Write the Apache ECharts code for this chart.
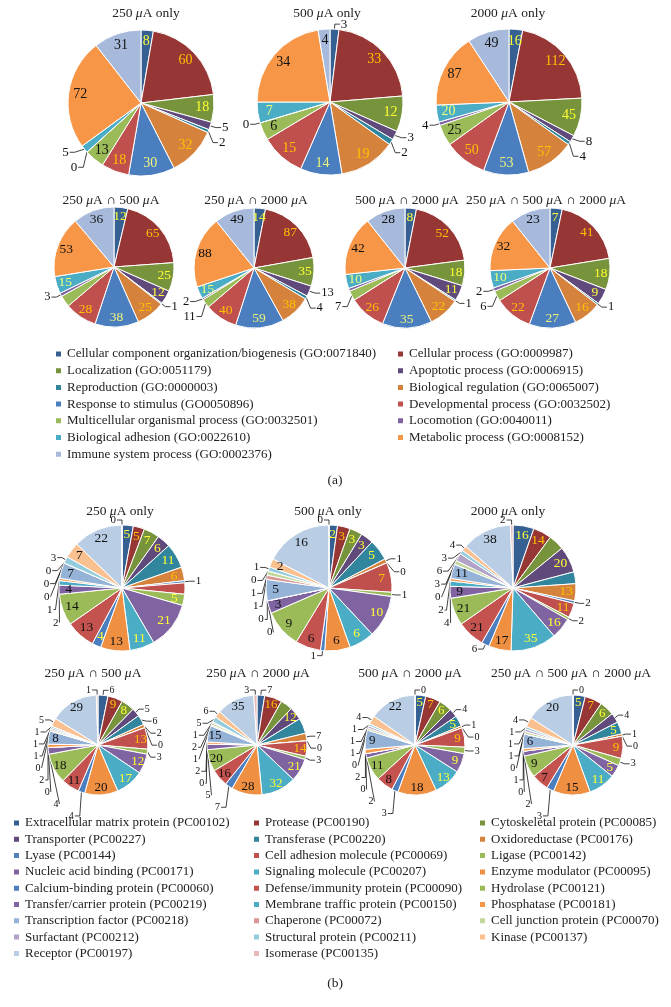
<!DOCTYPE html>
<html><head><meta charset="utf-8">
<script src="https://cdn.jsdelivr.net/npm/echarts@6/dist/echarts.min.js"></script>
<style>html,body{margin:0;padding:0;background:#fff}#c{width:671px;height:1007px}</style>
</head><body><div id="c"></div>
<script>
const FONT = '"Liberation Serif","Times New Roman",serif';

// ---------- Panel (a): GO biological process ----------
const categoriesA = [
  'Cellular component organization/biogenesis (GO:0071840)',
  'Cellular process (GO:0009987)',
  'Localization (GO:0051179)',
  'Apoptotic process (GO:0006915)',
  'Reproduction (GO:0000003)',
  'Biological regulation (GO:0065007)',
  'Response to stimulus (GO0050896)',
  'Developmental process (GO:0032502)',
  'Multicellular organismal process (GO:0032501)',
  'Locomotion (GO:0040011)',
  'Biological adhesion (GO:0022610)',
  'Metabolic process (GO:0008152)',
  'Immune system process (GO:0002376)'
];
const titlesA = ['250 μA only', '500 μA only', '2000 μA only',
  '250 μA ∩ 500 μA', '250 μA ∩ 2000 μA', '500 μA ∩ 2000 μA', '250 μA ∩ 500 μA ∩ 2000 μA'];
const a250only   = [8, 60, 18, 5, 2, 32, 30, 18, 13, 0, 5, 72, 31];
const a500only   = [3, 33, 12, 3, 2, 19, 14, 15, 6, 0, 7, 34, 4];
const a2000only  = [16, 112, 45, 8, 4, 57, 53, 50, 25, 4, 20, 87, 49];
const a250_500   = [12, 65, 25, 12, 1, 25, 38, 28, 10, 3, 15, 53, 36];
const a250_2000  = [14, 87, 35, 13, 4, 38, 59, 40, 11, 2, 15, 88, 49];
const a500_2000  = [8, 52, 18, 11, 1, 22, 35, 26, 7, 2, 10, 42, 28];
const aAll       = [7, 41, 18, 9, 1, 16, 27, 22, 6, 2, 10, 32, 23];

// ---------- Panel (b): PANTHER protein class ----------
const categoriesB = [
  'Extracellular matrix protein (PC00102)', 'Protease (PC00190)', 'Cytoskeletal protein (PC00085)',
  'Transporter (PC00227)', 'Transferase (PC00220)', 'Oxidoreductase (PC00176)',
  'Lyase (PC00144)', 'Cell adhesion molecule (PC00069)', 'Ligase (PC00142)',
  'Nucleic acid binding (PC00171)', 'Signaling molecule (PC00207)', 'Enzyme modulator (PC00095)',
  'Calcium-binding protein (PC00060)', 'Defense/immunity protein (PC00090)', 'Hydrolase (PC00121)',
  'Transfer/carrier protein (PC00219)', 'Membrane traffic protein (PC00150)', 'Phosphatase (PC00181)',
  'Transcription factor (PC00218)', 'Chaperone (PC00072)', 'Cell junction protein (PC00070)',
  'Surfactant (PC00212)', 'Structural protein (PC00211)', 'Kinase (PC00137)',
  'Receptor (PC00197)', 'Isomerase (PC00135)'
];
const titlesB = titlesA;
const b250only  = [5, 5, 7, 6, 11, 6, 1, 5, 5, 21, 11, 13, 4, 13, 14, 4, 2, 1, 7, 0, 0, 0, 3, 7, 22, 0];
const b500only  = [2, 3, 3, 3, 5, 1, 0, 7, 1, 10, 6, 6, 1, 6, 9, 3, 0, 0, 5, 1, 1, 0, 1, 2, 16, 0];
const b2000only = [16, 14, 12, 20, 9, 13, 2, 11, 2, 16, 35, 17, 6, 21, 21, 9, 4, 2, 11, 0, 3, 6, 3, 4, 38, 2];
const b250_500  = [6, 9, 8, 5, 6, 2, 0, 13, 3, 12, 17, 20, 4, 11, 18, 4, 0, 2, 8, 0, 1, 1, 1, 5, 29, 1];
const b250_2000 = [7, 16, 11, 12, 14, 7, 0, 14, 3, 21, 32, 28, 7, 16, 20, 5, 0, 2, 15, 1, 2, 1, 5, 6, 35, 3];
const b500_2000 = [5, 7, 6, 4, 5, 1, 0, 9, 3, 9, 13, 18, 3, 8, 11, 2, 0, 2, 9, 0, 1, 1, 1, 4, 22, 0];
const bAll      = [5, 7, 6, 4, 5, 1, 0, 9, 3, 5, 11, 15, 3, 7, 9, 2, 0, 1, 6, 0, 1, 1, 1, 4, 20, 0];

// ---------- styles ----------
const colorsA = ['#376092', '#963735', '#77933C', '#604A7B', '#31859C', '#D4823C', '#4A7EBF',
  '#C0504D', '#9BBB59', '#8064A2', '#4BACC6', '#F79646', '#A7BADB'];
const labelColorsA = ['#FFFF33', '#FFC000', '#FFFF33', '#FFFF33', '#FFFF33', '#FFC000', '#EEF57A',
  '#FFC000', '#111', '#FFFF33', '#EEFF77', '#111', '#111'];
const colorsB = ['#376092', '#963735', '#77933C', '#604A7B', '#31859C', '#D4823C',
  '#4F81BD', '#C0504D', '#9BBB59', '#8064A2', '#4BACC6', '#EE8F42',
  '#4A7EBF', '#C4524F', '#9BBB59', '#8064A2', '#4BACC6', '#F79646',
  '#95B3D7', '#D99694', '#C3D69B', '#B3A2C7', '#93CDDD', '#FAC090', '#B9CDE5', '#E6B9B8'];
const labelColorsB = ['#FFFF33', '#FFC000', '#FFFF33', '#FFFF33', '#FFFF33', '#FFC000',
  '#FFFF33', '#FFC000', '#FFFF33', '#FFFF33', '#FFFF33', '#111',
  '#FFFF33', '#111', '#111', '#111', '#111', '#111',
  '#111', '#111', '#111', '#111', '#111', '#111', '#111', '#111'];

function makePie(values, names, colors, lblColors, cx, cy, r, T, fsIn, fsOut) {
  const total = values.reduce((a, b) => a + b, 0);
  const isOut = v => v / total * 360 < T;
  const main = {
    type: 'pie', center: [cx, cy], radius: [0, r], startAngle: 90, clockwise: true,
    avoidLabelOverlap: true, animation: false, silent: true, minShowLabelAngle: 0,
    itemStyle: {borderColor: '#fff', borderWidth: 1},
    label: {show: true, position: 'outside', color: '#111', fontFamily: FONT, fontSize: fsOut,
      lineHeight: fsOut, padding: 0, formatter: '{c}', distanceToLabelLine: 1},
    labelLine: {show: true, length: 5, length2: 5, lineStyle: {color: '#111', width: 0.8}},
    data: values.map((v, i) => ({name: names[i], value: v, itemStyle: {color: colors[i]},
      label: {show: isOut(v)}, labelLine: {show: isOut(v)}}))
  };
  const ring = {
    type: 'pie', center: [cx, cy], radius: [r * 0.6, r], startAngle: 90, clockwise: true,
    silent: true, animation: false, legendHoverLink: false,
    itemStyle: {color: 'rgba(0,0,0,0)', borderWidth: 0},
    label: {show: true, position: 'inside', fontFamily: FONT, fontSize: fsIn, formatter: '{c}'},
    labelLine: {show: false},
    data: values.map((v, i) => ({name: names[i], value: v,
      label: {show: !isOut(v), color: lblColors[i]}}))
  };
  return [main, ring];
}

const series = [];
// panel a
[[a250only, 141, 103], [a500only, 330, 102], [a2000only, 509, 102]].forEach(p =>
  series.push(...makePie(p[0], categoriesA, colorsA, labelColorsA, p[1], p[2], 73, 9, 14, 13)));
[[a250_500, 114, 267], [a250_2000, 254, 268], [a500_2000, 405, 268], [aAll, 550, 268]].forEach(p =>
  series.push(...makePie(p[0], categoriesA, colorsA, labelColorsA, p[1], p[2], 60, 10.5, 13.5, 12.5)));
// panel b
[[b250only, 122, 588], [b500only, 329, 588], [b2000only, 513, 588]].forEach(p =>
  series.push(...makePie(p[0], categoriesB, colorsB, labelColorsB, p[1], p[2], 63, 7.5, 13.5, 11)));
[[b250_500, 98, 745], [b250_2000, 257, 745], [b500_2000, 415, 745], [bAll, 573, 745]].forEach(p =>
  series.push(...makePie(p[0], categoriesB, colorsB, labelColorsB, p[1], p[2], 50, 12, 13, 10)));

function title(x, y, str) {
  return {type: 'text', x: x, y: y, silent: true, style: {
    text: str.replace(/μ/g, '{i|μ}'), fontFamily: FONT, fontSize: 13.5, fill: '#222',
    align: 'center', verticalAlign: 'middle', textAlign: 'center', textVerticalAlign: 'middle',
    rich: {i: {fontStyle: 'italic', fontFamily: FONT, fontSize: 13.5, fill: '#222'}}}};
}
const graphics = [];
const tposA = [[146, 13], [327, 13], [508, 13], [111, 200], [256, 200], [407, 200], [546, 200]];
tposA.forEach((p, i) => graphics.push(title(p[0], p[1], titlesA[i])));
const tposB = [[120, 511], [328, 511], [508, 511], [93, 673], [258, 673], [410, 673], [571, 673]];
tposB.forEach((p, i) => graphics.push(title(p[0], p[1], titlesB[i])));
graphics.push(title(335, 480, '(a)'));
graphics.push(title(335, 983, '(b)'));

function legend(names, colorsOf, allNames, left, top, gap) {
  return {orient: 'vertical', left: left, top: top, itemWidth: 7, itemHeight: 7, itemGap: gap,
    icon: 'rect', selectedMode: false, padding: 0,
    textStyle: {fontFamily: FONT, fontSize: 13, color: '#222', lineHeight: 14},
    data: names.map(n => ({name: n, icon: 'rect', itemStyle: {color: colorsOf[allNames.indexOf(n)]}}))};
}
const legA1 = categoriesA.filter((_, i) => i % 2 === 0);
const legA2 = categoriesA.filter((_, i) => i % 2 === 1);
const legB1 = categoriesB.filter((_, i) => i % 3 === 0);
const legB2 = categoriesB.filter((_, i) => i % 3 === 1);
const legB3 = categoriesB.filter((_, i) => i % 3 === 2);

const chart = echarts.init(document.getElementById('c'), null, {renderer: 'canvas'});
chart.setOption({
  backgroundColor: '#fff',
  animation: false,
  legend: [
    legend(legA1, colorsA, categoriesA, 54, 347, 2.7),
    legend(legA2, colorsA, categoriesA, 396, 347, 2.7),
    legend(legB1, colorsB, categoriesB, 12, 816, 2.3),
    legend(legB2, colorsB, categoriesB, 252, 816, 2.3),
    legend(legB3, colorsB, categoriesB, 478, 816, 2.3)
  ],
  graphic: graphics,
  series: series
});
</script></body></html>
